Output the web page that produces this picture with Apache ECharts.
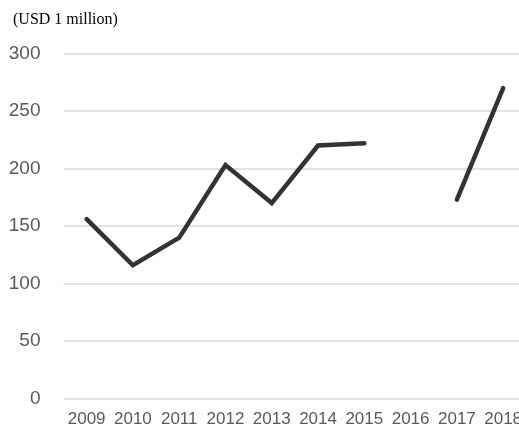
<!DOCTYPE html>
<html><head><meta charset="utf-8">
<script src="https://cdn.jsdelivr.net/npm/echarts@6/dist/echarts.min.js"></script>
<style>html,body{margin:0;padding:0;background:#fff;overflow:hidden}#c{width:519px;height:425px}</style>
</head><body><div id="c"></div>
<script>
const categories = ['2009','2010','2011','2012','2013','2014','2015','2016','2017','2018'];
const values = [156, 116, 140, 203, 170, 220, 222, null, 173, 270];
const yTicks = [0, 50, 100, 150, 200, 250, 300];
const unitLabel = '(USD 1 million)';

const chart = echarts.init(document.getElementById('c'), null, {renderer:'canvas'});
chart.setOption({
  animation:false,
  backgroundColor:'#fff',
  title:{text:unitLabel,left:13,top:12,padding:0,textStyle:{fontFamily:'Liberation Serif',fontSize:16,fontWeight:'normal',color:'#000'}},
  grid:{left:63.5,right:-7.3,top:53.5,bottom:26.3,containLabel:false,outerBoundsMode:'none'},
  xAxis:{type:'category',data:categories,boundaryGap:true,
    axisLine:{show:false},axisTick:{show:false},
    axisLabel:{margin:12,fontFamily:'Liberation Sans',fontSize:17,color:'#595959',interval:0}},
  yAxis:{type:'value',min:yTicks[0],max:yTicks[yTicks.length-1],interval:50,
    axisLine:{show:false},axisTick:{show:false},
    splitLine:{lineStyle:{color:'#d9d9d9',width:1.5}},
    axisLabel:{margin:23,fontFamily:'Liberation Sans',fontSize:19,color:'#595959'}},
  series:[{type:'line',data:values,connectNulls:false,symbol:'none',
    lineStyle:{color:'#333333',width:4.5,cap:'round',join:'miter'}}]
});
</script></body></html>
